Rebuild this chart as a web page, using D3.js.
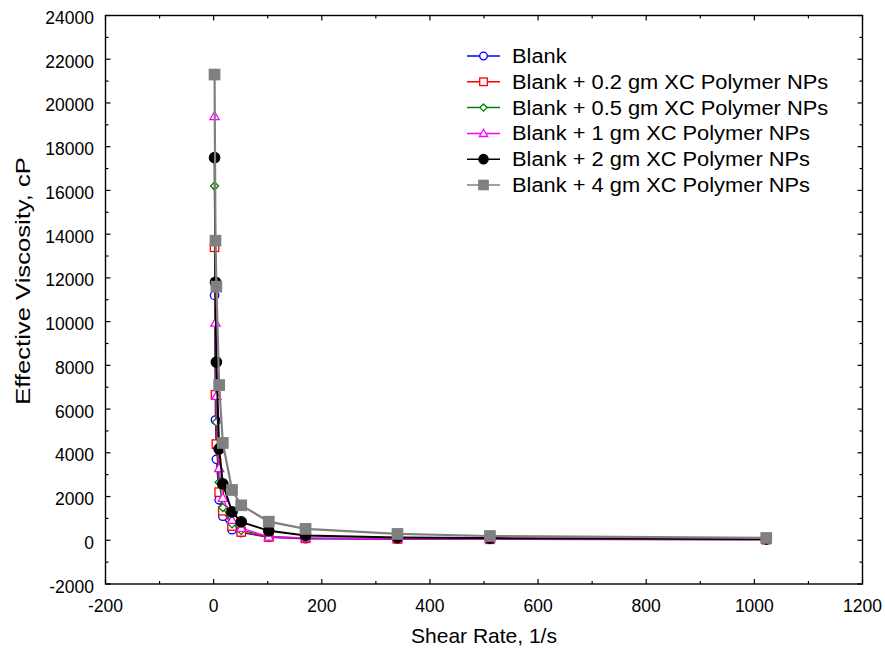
<!DOCTYPE html>
<html>
<head>
<meta charset="utf-8">
<script src="https://cdn.jsdelivr.net/npm/d3@7"></script>
<style>
  html, body { margin: 0; padding: 0; background: #fff; }
  svg { display: block; font-family: "Liberation Sans", Arial, sans-serif; }
</style>
</head>
<body>
<svg id="chart" width="885" height="653"></svg>
<script>
// Shear rate (1/s) for each reading
const shearRate = [1.7, 3.4, 5.1, 10.2, 17, 34, 51, 102, 170, 340, 511, 1022];

// Effective viscosity (cP) for each fluid
const blank   = [11200, 5500, 3700, 1850, 1100, 480, 350, 130, 70, 50, 40, 30];
const xc02    = [13400, 6650, 4400, 2200, 1350, 650, 380, 150, 90, 60, 45, 30];
const xc05    = [16200, 8100, 5400, 2650, 1500, 750, 450, 180, 100, 70, 50, 35];
const xc1     = [19400, 9950, 6600, 3300, 1940, 930, 560, 160, 110, 70, 50, 30];
const xc2     = [17500, 11800, 8150, 4180, 2580, 1300, 840, 430, 220, 130, 100, 60];
const xc4     = [21300, 13700, 11600, 7100, 4450, 2300, 1600, 850, 520, 290, 195, 105];

const seriesNames = [
  "Blank",
  "Blank + 0.2 gm XC Polymer NPs",
  "Blank + 0.5 gm XC Polymer NPs",
  "Blank + 1 gm XC Polymer NPs",
  "Blank + 2 gm XC Polymer NPs",
  "Blank + 4 gm XC Polymer NPs"
];
const seriesValues = [blank, xc02, xc05, xc1, xc2, xc4];

const xTicks = [-200, 0, 200, 400, 600, 800, 1000, 1200];
const yTicks = [-2000, 0, 2000, 4000, 6000, 8000, 10000, 12000, 14000, 16000, 18000, 20000, 22000, 24000];

const styles = [
  { color: "#0000ff", shape: "circle",   fill: "#fff",     size: 4.2, width: 1.3 },
  { color: "#ff0000", shape: "square",   fill: "#fff",     size: 4.2, width: 1.3 },
  { color: "#008000", shape: "diamond",  fill: "#fff",     size: 4.0, width: 1.3 },
  { color: "#ff00ff", shape: "triangle", fill: "#fff",     size: 4.6, width: 1.3 },
  { color: "#000000", shape: "circle",   fill: "#000000",  size: 5.2, width: 2.0 },
  { color: "#808080", shape: "square",   fill: "#808080",  size: 5.2, width: 2.2 }
];

const svg = d3.select("#chart");
const L = 105.5, R = 862.5, T = 15.5, B = 584;

const x = d3.scaleLinear().domain([-200, 1200]).range([L, R]);
const y = d3.scaleLinear().domain([-2000, 24000]).range([B, T]);

// minor ticks halfway between the labelled ones
const xMinor = d3.range(-100, 1200, 200);
const yMinor = d3.range(-1000, 24000, 2000);

const axisStroke = "#000";

// frame
svg.append("rect")
  .attr("x", L).attr("y", T)
  .attr("width", R - L).attr("height", B - T)
  .attr("fill", "none").attr("stroke", axisStroke).attr("stroke-width", 1.4);

// inward ticks on all four sides
const tk = svg.append("g").attr("stroke", axisStroke).attr("stroke-width", 1.2);
function xTick(v, len) {
  tk.append("line").attr("x1", x(v)).attr("x2", x(v)).attr("y1", B).attr("y2", B - len);
  tk.append("line").attr("x1", x(v)).attr("x2", x(v)).attr("y1", T).attr("y2", T + len);
}
function yTick(v, len) {
  tk.append("line").attr("y1", y(v)).attr("y2", y(v)).attr("x1", L).attr("x2", L + len);
  tk.append("line").attr("y1", y(v)).attr("y2", y(v)).attr("x1", R).attr("x2", R - len);
}
xTicks.forEach(v => xTick(v, 5));
xMinor.forEach(v => xTick(v, 3));
yTicks.forEach(v => yTick(v, 5));
yMinor.forEach(v => yTick(v, 3));

// tick labels
svg.append("g").selectAll("text").data(xTicks).join("text")
  .attr("x", d => x(d)).attr("y", 612)
  .attr("text-anchor", "middle")
  .attr("font-size", 17.5)
  .text(d => d);

svg.append("g").selectAll("text").data(yTicks).join("text")
  .attr("x", 94).attr("y", d => y(d) + 8.5)
  .attr("text-anchor", "end")
  .attr("font-size", 17.5)
  .text(d => d);

// axis titles
svg.append("text")
  .attr("x", (L + R) / 2).attr("y", 643)
  .attr("text-anchor", "middle")
  .attr("font-size", 21)
  .text("Shear Rate, 1/s");

const yTitle = svg.append("text")
  .attr("transform", "translate(30, 281) rotate(-90)")
  .attr("text-anchor", "middle")
  .attr("font-size", 21)
  .text("Effective Viscosity, cP");
// the vertical title is set a little wider than its natural length
yTitle.attr("textLength", yTitle.node().getComputedTextLength() * 1.22)
  .attr("lengthAdjust", "spacingAndGlyphs");

// marker drawing
function drawMarker(g, cx, cy, st) {
  const s = st.size;
  let m;
  if (st.shape === "circle") {
    m = g.append("circle").attr("cx", cx).attr("cy", cy).attr("r", s);
  } else if (st.shape === "square") {
    m = g.append("rect").attr("x", cx - s).attr("y", cy - s).attr("width", 2 * s).attr("height", 2 * s);
  } else if (st.shape === "diamond") {
    m = g.append("path").attr("d", `M${cx},${cy - s}L${cx + s},${cy}L${cx},${cy + s}L${cx - s},${cy}Z`);
  } else {
    m = g.append("path").attr("d", `M${cx},${cy - s}L${cx + s},${cy + s * 0.75}L${cx - s},${cy + s * 0.75}Z`);
  }
  m.attr("fill", st.fill).attr("stroke", st.color).attr("stroke-width", 1.3);
}

const line = d3.line().x(d => x(d[0])).y(d => y(d[1]));
const plot = svg.append("g");

seriesValues.forEach((vals, i) => {
  const st = styles[i];
  const pts = shearRate.map((sr, j) => [sr, vals[j]]);
  const g = plot.append("g");
  g.append("path").datum(pts)
    .attr("d", line)
    .attr("fill", "none")
    .attr("stroke", st.color)
    .attr("stroke-width", st.width);
  pts.forEach(p => drawMarker(g, x(p[0]), y(p[1]), st));
});

// legend
const lg = svg.append("g");
const lgX0 = 467, lgX1 = 500, lgText = 512, lgY0 = 56, lgStep = 25.8;
seriesNames.forEach((name, i) => {
  const st = styles[i];
  const yy = lgY0 + i * lgStep;
  lg.append("line").attr("x1", lgX0).attr("x2", lgX1).attr("y1", yy).attr("y2", yy)
    .attr("stroke", st.color).attr("stroke-width", 1.5);
  drawMarker(lg, (lgX0 + lgX1) / 2, yy, Object.assign({}, st, { size: st.size * 0.9 }));
  const t = lg.append("text").attr("x", lgText).attr("y", yy + 7)
    .attr("font-size", 19.5)
    .text(name);
  t.attr("textLength", t.node().getComputedTextLength() * 1.12)
    .attr("lengthAdjust", "spacingAndGlyphs");
});
</script>
</body>
</html>
